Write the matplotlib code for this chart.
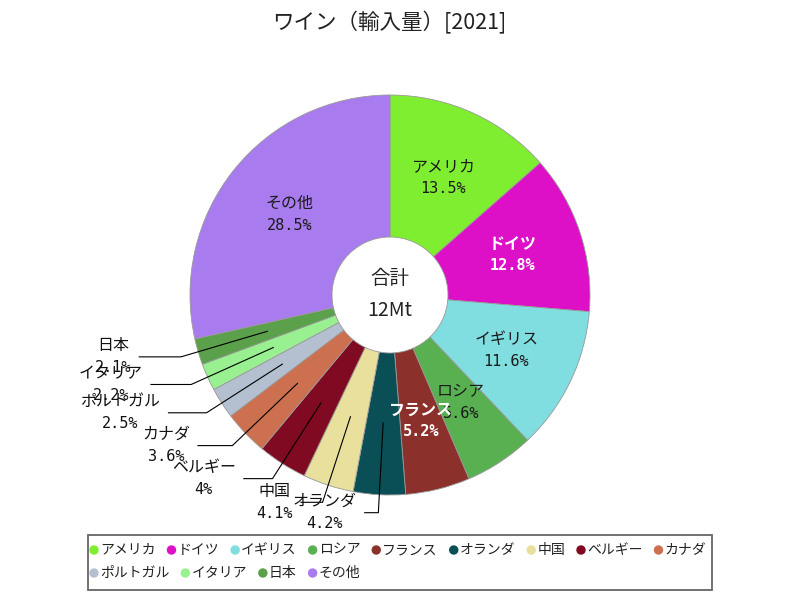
import numpy as np
import matplotlib
matplotlib.use('Agg')
import matplotlib.pyplot as plt
from matplotlib.patches import Rectangle, Circle

plt.rcParams['font.family'] = ['Noto Sans CJK JP', 'DejaVu Sans']
MONO = ['DejaVu Sans Mono']

title = 'ワイン（輸入量）[2021]'
countries = ['アメリカ', 'ドイツ', 'イギリス', 'ロシア', 'フランス', 'オランダ', '中国',
             'ベルギー', 'カナダ', 'ポルトガル', 'イタリア', '日本', 'その他']
shares = [13.5, 12.8, 11.6, 5.6, 5.2, 4.2, 4.1, 4.0, 3.6, 2.5, 2.2, 2.1, 28.5]
pct_labels = ['13.5%', '12.8%', '11.6%', '5.6%', '5.2%', '4.2%', '4.1%', '4%',
              '3.6%', '2.5%', '2.2%', '2.1%', '28.5%']
colors = ['#80ee30', '#dd10c8', '#80dde0', '#58b050', '#8b302a', '#0a4f55', '#e8e09c',
          '#800a22', '#cc7050', '#b4c0d0', '#99f090', '#5ba04a', '#a87bee']
outside = ['オランダ', '中国', 'ベルギー', 'カナダ', 'ポルトガル', 'イタリア', '日本']
center_title = '合計'
center_total = '12Mt'
legend_rows = [countries[:9], countries[9:]]

fig = plt.figure(figsize=(8, 6), dpi=100)
ax = fig.add_axes([0, 0, 1, 1])

wedges, _ = ax.pie(shares, colors=colors, startangle=90, counterclock=False, radius=1.0,
                   wedgeprops=dict(width=0.71, edgecolor='#999999', linewidth=0.6))

# 1 data unit = 200 px, pie centre at pixel (390, 295)
ax.set_xlim(-1.95, 2.05)
ax.set_ylim(-1.525, 1.475)
ax.set_aspect('equal')
ax.axis('off')
PX = 1 / 200.0

renderer = fig.canvas.get_renderer()


def width_units(t):
    return t.get_window_extent(renderer=renderer).width * PX


def text_color(hexcol):
    r, g, b = [int(hexcol[i:i + 2], 16) for i in (1, 3, 5)]
    return 'white' if 0.299 * r + 0.587 * g + 0.114 * b < 128 else '#1a1a1a'


LBL = 11.5
for w, name, pct, col in zip(wedges, countries, pct_labels, colors):
    mid = np.deg2rad((w.theta1 + w.theta2) / 2)
    dx, dy = np.cos(mid), np.sin(mid)
    if name in outside:
        x0, y0 = 0.64 * dx, 0.64 * dy
        x1, y1 = 1.09 * dx, 1.09 * dy
        x2 = x1 - (12 + 31 * abs(dx)) * PX
        ax.plot([x0, x1, x2], [y0, y1, y1], color='black', lw=0.8)
        t1 = ax.text(0, y1 + 11 * PX, name, ha='center', va='center', fontsize=LBL, color='#111111')
        t2 = ax.text(0, y1 - 11 * PX, pct, ha='center', va='center', fontsize=LBL - 0.5,
                     family=MONO, color='#111111')
        bw = max(width_units(t1), width_units(t2))
        cx = x2 - 8 * PX - bw / 2
        t1.set_x(cx)
        t2.set_x(cx)
    else:
        tc = text_color(col)
        fw = 'bold' if tc == 'white' else 'normal'
        cx, cy = 0.645 * dx, 0.645 * dy
        ax.text(cx, cy + 11 * PX, name, ha='center', va='center', fontsize=LBL,
                color=tc, fontweight=fw)
        ax.text(cx, cy - 11 * PX, pct, ha='center', va='center', fontsize=LBL - 0.5,
                family=MONO, color=tc, fontweight=fw)

ax.text(0, 16 * PX, center_title, ha='center', va='center', fontsize=14, color='#222222')
ax.text(0, -16 * PX, center_total, ha='center', va='center', fontsize=14, color='#222222')

fig.text(0.486, 1 - 23 / 600, title, ha='center', va='center', fontsize=15.5, color='#222222')

# legend drawn as a flowing row layout inside a box
box_l, box_r, box_t, box_b = 88, 712, 535, 590
ax.add_patch(Rectangle(((box_l - 390) * PX, (295 - box_b) * PX), (box_r - box_l) * PX,
                       (box_b - box_t) * PX, fill=False, edgecolor='#666666', lw=1.3,
                       clip_on=False))
row_y = [550, 573]
idx = 0
for r, row in enumerate(row_y):
    x = 94
    for name in legend_rows[r]:
        c = colors[idx]
        idx += 1
        yy = (295 - row) * PX
        ax.add_patch(Circle(((x - 390) * PX, yy), 4 * PX, color=c, clip_on=False))
        t = ax.text((x + 6 - 390) * PX, yy, name, ha='left', va='center', fontsize=10,
                    color='#222222')
        x = x + 6 + width_units(t) / PX + 16

fig.savefig('out.png', dpi=100)
